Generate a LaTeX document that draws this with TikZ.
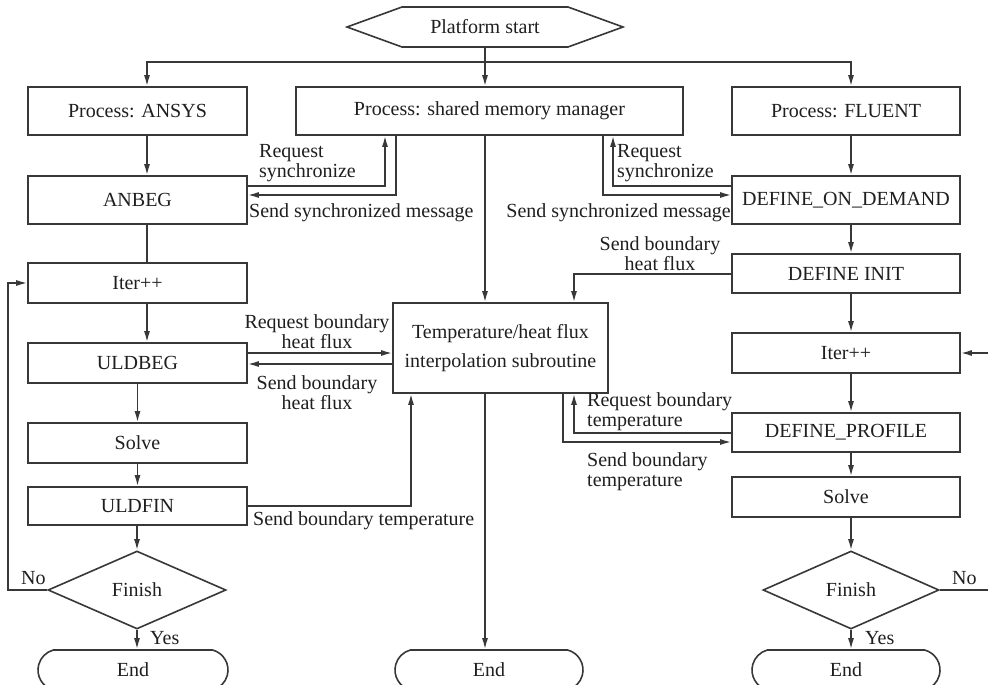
\documentclass[tikz,border=0pt]{standalone}
\usepackage{fontspec}
\setmainfont{Liberation Serif}
\usetikzlibrary{shapes.geometric,shapes.misc,arrows.meta}
\begin{document}
\begin{tikzpicture}[x=1pt,y=-1pt,
  every node/.style={font=\fontsize{20}{20}\selectfont, text=black!88},
  line/.style={draw=black!78, line width=1.6pt},
  arr/.style={line, -{Latex[length=11pt,width=6pt]}},
  box/.style={line, rectangle, inner sep=0pt, align=center},
  dec/.style={line, diamond, inner sep=0pt},
  term/.style={line, rounded rectangle, rounded rectangle arc length=150, inner sep=0pt, minimum width=190pt, minimum height=40pt},
  lbl/.style={inner sep=0pt, align=left},
  lblc/.style={inner sep=0pt, align=center}]
\useasboundingbox[fill=white] (0,0) rectangle (988,685);

% column coordinates
\coordinate (cA) at (147,0);
\coordinate (cM) at (485,0);
\coordinate (cR) at (851,0);
\coordinate (bus) at (485,62);
\coordinate (lp) at (8,0);
\coordinate (rp) at (993,0);

% start hexagon
\node[minimum height=40pt, inner sep=0pt] (start) at (485,27) {Platform start};
\draw[line] (347,27) -- (402,7) -- (568,7) -- (623,27) -- (568,47) -- (402,47) -- cycle;

% boxes
\node[box, minimum width=219pt, minimum height=48pt] (ansys) at (137.5,111) {Process: ANSYS};
\node[box, minimum width=387pt, minimum height=48pt] (smm) at (489.5,111) {Process: shared memory manager};
\node[box, minimum width=228pt, minimum height=48pt] (fluent) at (846,111) {Process: FLUENT};
\node[box, minimum width=219pt, minimum height=48pt] (anbeg) at (137.5,200) {ANBEG};
\node[box, minimum width=228pt, minimum height=48pt] (dod) at (846,200) {DEFINE\_ON\_DEMAND};
\node[box, minimum width=228pt, minimum height=39pt] (dinit) at (846,273.5) {DEFINE INIT};
\node[box, minimum width=219pt, minimum height=40pt] (iterL) at (137.5,283) {Iter++};
\node[box, minimum width=215pt, minimum height=90pt] (interp) at (500.5,348) {Temperature/heat flux\\[9pt]interpolation subroutine};
\node[box, minimum width=228pt, minimum height=40pt] (iterR) at (846,353) {Iter++};
\node[box, minimum width=219pt, minimum height=40pt] (uldbeg) at (137.5,363) {ULDBEG};
\node[box, minimum width=228pt, minimum height=39pt] (dprof) at (846,432.5) {DEFINE\_PROFILE};
\node[box, minimum width=219pt, minimum height=40pt] (solveL) at (137.5,443) {Solve};
\node[box, minimum width=228pt, minimum height=40pt] (solveR) at (846,497) {Solve};
\node[box, minimum width=219pt, minimum height=38pt] (uldfin) at (137.5,506) {ULDFIN};
\node[dec, minimum width=178pt, minimum height=78pt] (finL) at (137,590) {Finish};
\node[dec, minimum width=176pt, minimum height=78pt] (finR) at (851,590) {Finish};
\node[term] (endL) at (133,670) {End};
\node[term, minimum width=188pt] (endM) at (489,670) {End};
\node[term, minimum width=188pt] (endR) at (846,670) {End};

% top connectors
\draw[arr] (start.south) -- (smm.north -| start.south);
\draw[arr] (bus) -| (ansys.north -| cA);
\draw[arr] (bus) -| (fluent.north -| cR);

% left column
\draw[arr] (ansys.south -| cA) -- (anbeg.north -| cA);
\draw[line] (anbeg.south -| cA) -- (iterL.north -| cA);
\draw[arr] (iterL.south -| cA) -- (uldbeg.north -| cA);
\draw[arr] (uldbeg) -- (solveL);
\draw[arr] (solveL) -- (uldfin);
\draw[arr] (uldfin.south -| finL) -- (finL.north);
\draw[arr] (finL.south) -- (endL.north -| finL.south);
\draw[arr] (finL.west) -- (finL.west -| lp) |- (iterL.west);

% synchronization, left
\draw[arr] (anbeg.east |- 0,186) -| (smm.south -| 385,0);
\draw[arr] (smm.south -| 396,0) |- (anbeg.east |- 0,195);
% synchronization, right
\draw[arr] (smm.south -| 603,0) |- (dod.west |- 0,195);
\draw[arr] (dod.west |- 0,186) -| (smm.south -| 613,0);

% right column
\draw[arr] (fluent.south -| cR) -- (dod.north -| cR);
\draw[arr] (dod.south -| cR) -- (dinit.north -| cR);
\draw[arr] (dinit.south -| cR) -- (iterR.north -| cR);
\draw[arr] (iterR.south -| cR) -- (dprof.north -| cR);
\draw[arr] (dprof.south -| cR) -- (solveR.north -| cR);
\draw[arr] (solveR.south -| cR) -- (finR.north);
\draw[arr] (finR.south) -- (endR.north -| finR.south);
\draw[arr] (finR.east) -- (finR.east -| rp) |- (iterR.east);

% middle
\draw[arr] (smm.south -| cM) -- (interp.north -| cM);
\draw[arr] (interp.south -| cM) -- (endM.north -| cM);
\draw[arr] (dinit.west |- 0,274) -| (interp.north -| 574,0);
\draw[arr] (uldbeg.east |- 0,353) -- (interp.west |- 0,353);
\draw[arr] (interp.west |- 0,364) -- (uldbeg.east |- 0,364);
\draw[arr] (uldfin.east |- 0,506) -| (interp.south -| 411,0);
\draw[arr] (dprof.west |- 0,433) -| (interp.south -| 574,0);
\draw[arr] (interp.south -| 563,0) |- (dprof.west |- 0,442);

% labels
\node[lbl, anchor=west] (l1) at (259,163) {Request\\synchronize};
\node[lbl, anchor=west] (l2) at (249,213) {Send synchronized message};
\node[lbl, anchor=west] (l3) at (617,163) {Request\\synchronize};
\node[lbl, anchor=east] (l4) at (731,213) {Send synchronized message};
\node[lblc] (l5) at (660,254) {Send boundary\\heat flux};
\node[lblc] (l6) at (317,331.5) {Request boundary\\heat flux};
\node[lblc] (l7) at (317,392.5) {Send boundary\\heat flux};
\node[lbl, anchor=west] (l8) at (253,521) {Send boundary temperature};
\node[lbl, anchor=west] (l9) at (587,412) {Request boundary\\temperature};
\node[lbl, anchor=west] (l10) at (587,471.5) {Send boundary\\temperature};
\node[lbl, anchor=west] (yL) at (150,638) {Yes};
\node[lbl, anchor=west] (yR) at (865,638) {Yes};
\node[lbl, anchor=west] (nL) at (21,578) {No};
\node[lbl, anchor=west] (nR) at (952,578) {No};
\end{tikzpicture}
\end{document}
